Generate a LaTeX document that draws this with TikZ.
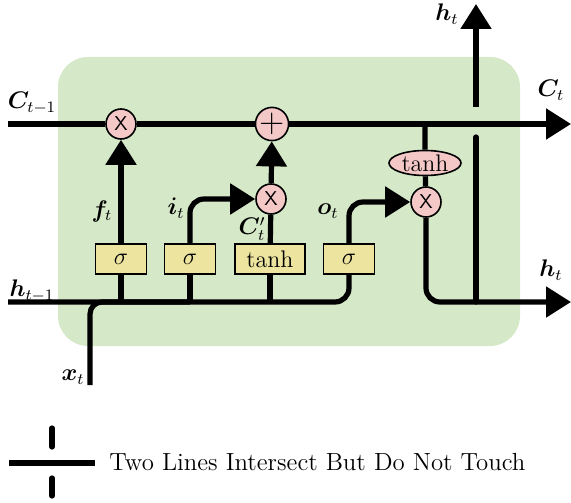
\documentclass[12pt,tikz,border=0pt]{standalone}
\usepackage{bm}
\usetikzlibrary{arrows.meta,shapes.geometric}
\definecolor{cellgreen}{RGB}{213,232,200}
\definecolor{gateyellow}{RGB}{237,228,160}
\definecolor{oppink}{RGB}{245,200,200}

\begin{document}
\begin{tikzpicture}[x=0.5pt,y=-0.5pt,
	wire/.style={line width=2.6pt},
	arr/.style={wire,-{Triangle[length=12.5pt,width=15pt]}},
	gate/.style={draw,line width=0.8pt,fill=gateyellow,minimum width=25.5pt,minimum height=15pt,inner sep=0pt},
	op/.style={draw,line width=0.8pt,fill=oppink,circle,minimum size=15pt,inner sep=0pt,font=\sffamily\footnotesize},
	]
	\useasboundingbox (0,0) rectangle (571,502);
	% cell
	\fill[cellgreen, rounded corners=15pt] (58,57) rectangle (520,346);

	% ends of the wires
	\coordinate (Cin) at (8,124);
	\coordinate (Cout) at (571,124);
	\coordinate (hin) at (8,302);
	\coordinate (hout) at (571,302);
	\coordinate (xin) at (90,385);
	\coordinate (htop) at (476,4);
	\coordinate (hbot) at (476,302);
	\coordinate (gapA) at (476,137);
	\coordinate (gapB) at (476,107);

	% gates and pointwise ops
	\node[op] (cmul) at (121,124) {X};
	\node[op, font=\sffamily\Large] (cadd) at (272,124) {+};
	\node[op] (imul) at (271,199) {X};
	\node[op] (omul) at (426,202) {X};
	\node[gate] (fbox) at (121,259) {$\sigma$};
	\node[gate] (ibox) at (190,259) {$\sigma$};
	\node[gate, minimum width=35pt] (gbox) at (270,259) {tanh};
	\node[gate] (obox) at (349,259) {$\sigma$};
	\node[draw,line width=0.8pt,fill=oppink,ellipse,minimum width=36pt,minimum height=12.5pt,inner sep=0pt] (tanhc) at (425,163) {tanh};

	% labels
	\node (lCin) at (32,103) {$\bm{C}_{t-1}$};
	\node (lhin) at (32,291) {$\bm{h}_{t-1}$};
	\node (lf) at (102,211) {$\bm{f}_t$};
	\node (li) at (176,208) {$\bm{i}_t$};
	\node (lg) at (252,229) {$\bm{C}'_t$};
	\node (lo) at (328,211) {$\bm{o}_t$};
	\node (lht) at (447,14) {$\bm{h}_t$};
	\node (lCt) at (551,90) {$\bm{C}_t$};
	\node (lhr) at (551,270) {$\bm{h}_t$};
	\node (lx) at (73,377) {$\bm{x}_t$};

	% cell state
	\draw[wire] (Cin) -- (cmul) -- (cadd);
	\draw[arr] (cadd) -- (Cout);
	\draw[wire] (tanhc.north |- Cin) -- (tanhc) -- (omul);

	% hidden state and input
	\draw[wire, rounded corners=7pt] (hin) -| (obox.south);
	\draw[wire, rounded corners=6pt] (xin) |- (ibox.south |- hin);
	\draw[wire] (fbox.south) -- (fbox.south |- hin);
	\draw[wire] (ibox.south) -- (ibox.south |- hin);
	\draw[wire] (gbox.south) -- (gbox.south |- hin);

	% gates
	\draw[arr] (fbox) -- (cmul);
	\draw[arr, rounded corners=7pt] (ibox.north) |- (imul);
	\draw[wire] (gbox) -- (imul);
	\draw[arr] (imul) -- (cadd);
	\draw[arr, rounded corners=7pt] (obox.north) |- (omul);

	% output
	\draw[arr, rounded corners=7pt] (omul) |- (hout);
	\draw[wire, line cap=round] (hbot) -- (gapA);
	\draw[arr] (gapB) -- (htop);

	% legend
	\draw[wire] (9,463) -- (95,463);
	\draw[wire, line cap=round] (52,428) -- (52,447);
	\draw[wire, line cap=round] (52,478) -- (52,496);
	\node[anchor=west, font=\fontsize{12.4}{15}\selectfont] (legend) at (101,462) {Two Lines Intersect But Do Not Touch};
\end{tikzpicture}
\end{document}
